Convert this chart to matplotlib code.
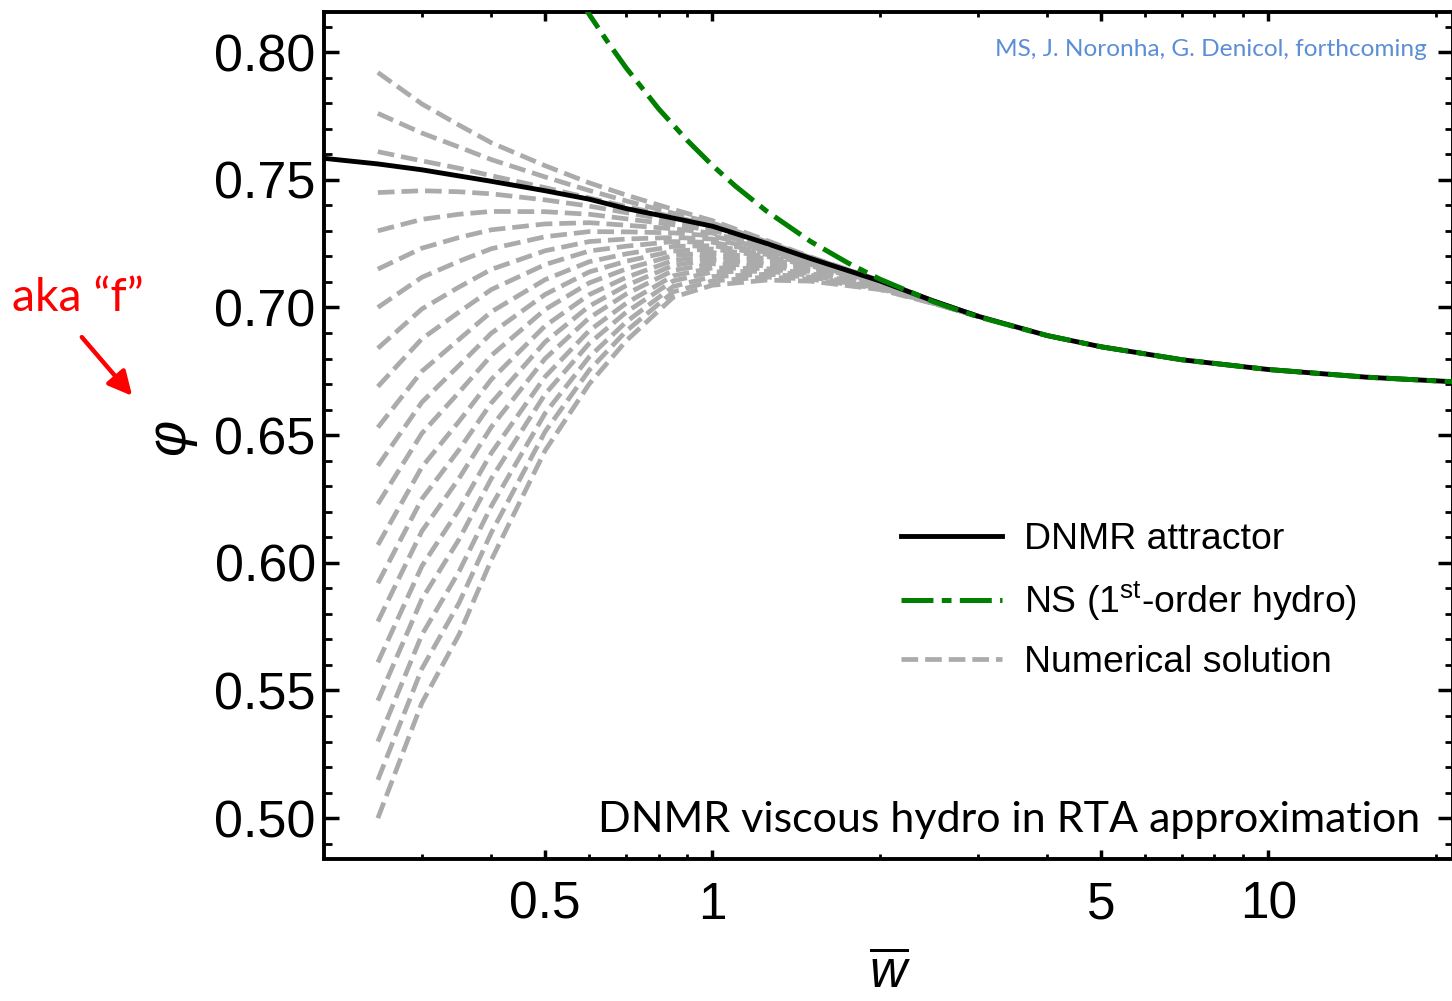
import numpy as np
import matplotlib.pyplot as plt
from matplotlib.ticker import FixedLocator, FixedFormatter, NullFormatter, MultipleLocator
from matplotlib.lines import Line2D
from matplotlib.patches import FancyArrowPatch

plt.rcParams['font.family'] = ['Liberation Sans', 'DejaVu Sans']
plt.rcParams['mathtext.fontset'] = 'custom'
plt.rcParams['mathtext.rm'] = 'Liberation Sans'
plt.rcParams['mathtext.it'] = 'Liberation Sans:italic'
plt.rcParams['lines.scale_dashes'] = False

# DNMR attractor
w_attr = [0.2, 0.25, 0.3, 0.4, 0.5, 0.6, 0.7, 0.85, 1.0, 1.25, 1.5, 2.0, 2.5, 3.0,
          4.0, 5.0, 7.0, 10.0, 15.0, 21.5]
phi_attr = [0.7584, 0.7562, 0.7539, 0.7494, 0.7457, 0.7424, 0.7387, 0.7350, 0.7318,
            0.7251, 0.7192, 0.7104, 0.7025, 0.6966, 0.6890, 0.6846, 0.6795, 0.6757,
            0.6727, 0.6709]

# Navier-Stokes (1st order)
w_ns = [0.58, 0.6, 0.65, 0.7, 0.8, 0.9, 1.0, 1.1, 1.25, 1.5, 1.75, 2.0, 2.5, 3.0,
        4.0, 5.0, 7.0, 10.0, 15.0, 21.5]
phi_ns = [0.8200, 0.8148, 0.8035, 0.7937, 0.7778, 0.7655, 0.7556, 0.7475, 0.7378,
          0.7259, 0.7175, 0.7111, 0.7022, 0.6964, 0.6890, 0.6846, 0.6795, 0.6757,
          0.6727, 0.6709]

# numerical solutions, one row per initial value at w = 0.25
w_num = [0.25, 0.3, 0.35, 0.4, 0.5, 0.6, 0.7, 0.85, 1.0, 1.25, 1.5, 2.0, 2.5, 3.0]
phi_num = [
    [0.500, 0.5451, 0.5719, 0.6011, 0.6440, 0.6700, 0.6870, 0.7040, 0.7087, 0.7107, 0.7103, 0.7070, 0.7015, 0.6966],
    [0.515, 0.5585, 0.5843, 0.6118, 0.6514, 0.6754, 0.6908, 0.7061, 0.7104, 0.7119, 0.7111, 0.7073, 0.7016, 0.6966],
    [0.530, 0.5718, 0.5966, 0.6222, 0.6586, 0.6806, 0.6944, 0.7082, 0.7121, 0.7130, 0.7119, 0.7076, 0.7016, 0.6966],
    [0.546, 0.5858, 0.6092, 0.6330, 0.6661, 0.6859, 0.6982, 0.7104, 0.7139, 0.7142, 0.7126, 0.7079, 0.7017, 0.6966],
    [0.561, 0.5987, 0.6209, 0.6430, 0.6729, 0.6909, 0.7017, 0.7124, 0.7155, 0.7152, 0.7133, 0.7082, 0.7018, 0.6966],
    [0.577, 0.6124, 0.6331, 0.6532, 0.6800, 0.6959, 0.7053, 0.7145, 0.7171, 0.7163, 0.7140, 0.7085, 0.7018, 0.6966],
    [0.592, 0.6250, 0.6443, 0.6626, 0.6865, 0.7005, 0.7086, 0.7165, 0.7186, 0.7173, 0.7146, 0.7088, 0.7019, 0.6966],
    [0.607, 0.6375, 0.6554, 0.6718, 0.6928, 0.7050, 0.7118, 0.7184, 0.7201, 0.7182, 0.7152, 0.7090, 0.7020, 0.6966],
    [0.623, 0.6507, 0.6668, 0.6812, 0.6992, 0.7096, 0.7151, 0.7203, 0.7215, 0.7191, 0.7158, 0.7092, 0.7020, 0.6966],
    [0.638, 0.6629, 0.6773, 0.6899, 0.7051, 0.7139, 0.7181, 0.7221, 0.7229, 0.7200, 0.7163, 0.7094, 0.7021, 0.6966],
    [0.653, 0.6750, 0.6875, 0.6983, 0.7109, 0.7179, 0.7210, 0.7239, 0.7242, 0.7208, 0.7168, 0.7096, 0.7021, 0.6966],
    [0.669, 0.6877, 0.6982, 0.7070, 0.7168, 0.7221, 0.7240, 0.7258, 0.7255, 0.7216, 0.7173, 0.7098, 0.7022, 0.6966],
    [0.684, 0.6994, 0.7080, 0.7149, 0.7222, 0.7258, 0.7268, 0.7274, 0.7268, 0.7223, 0.7177, 0.7100, 0.7022, 0.6966],
    [0.700, 0.7118, 0.7181, 0.7230, 0.7277, 0.7297, 0.7296, 0.7292, 0.7280, 0.7230, 0.7181, 0.7101, 0.7023, 0.6966],
    [0.715, 0.7232, 0.7274, 0.7304, 0.7327, 0.7332, 0.7322, 0.7308, 0.7291, 0.7237, 0.7185, 0.7102, 0.7023, 0.6966],
    [0.730, 0.7345, 0.7365, 0.7376, 0.7375, 0.7365, 0.7347, 0.7324, 0.7302, 0.7243, 0.7188, 0.7103, 0.7024, 0.6966],
    [0.745, 0.7457, 0.7453, 0.7445, 0.7421, 0.7397, 0.7371, 0.7339, 0.7312, 0.7248, 0.7191, 0.7104, 0.7024, 0.6966],
    [0.761, 0.7574, 0.7545, 0.7516, 0.7469, 0.7429, 0.7395, 0.7355, 0.7322, 0.7254, 0.7194, 0.7105, 0.7025, 0.6966],
    [0.776, 0.7683, 0.7628, 0.7579, 0.7511, 0.7458, 0.7417, 0.7369, 0.7331, 0.7258, 0.7196, 0.7106, 0.7025, 0.6966],
    [0.792, 0.7797, 0.7714, 0.7645, 0.7555, 0.7488, 0.7440, 0.7384, 0.7340, 0.7263, 0.7198, 0.7106, 0.7025, 0.6966],
]

xticks_major = [0.5, 1, 5, 10]
xtick_labels = ['0.5', '1', '5', '10']
xticks_minor = [0.3, 0.4, 0.6, 0.7, 0.8, 0.9, 2, 3, 4, 6, 7, 8, 9, 20]
yticks_major = [0.50, 0.55, 0.60, 0.65, 0.70, 0.75, 0.80]

labels = ['DNMR attractor', r'NS (1$^{\mathrm{st}}$-order hydro)', 'Numerical solution']

gray = '#ABABAB'
green = '#007F00'
ns_dash = (0, (23, 6, 7, 6))
num_dash = (0, (12, 5))

W, H = 1452, 1001
fig = plt.figure(figsize=(W / 100, H / 100), dpi=100)
ax = fig.add_axes([324 / W, 1 - 858.5 / H, 1129 / W, 846.5 / H])

for row in phi_num:
    ax.plot(w_num, row, color=gray, lw=3.4, linestyle=num_dash,
            dash_capstyle='butt', zorder=1)
ax.plot(w_attr, phi_attr, color='black', lw=3.5, zorder=2)
ax.plot(w_ns, phi_ns, color=green, lw=3.6, linestyle=ns_dash,
        dash_capstyle='butt', zorder=3)

ax.set_xscale('log')
ax.set_xlim(0.2, 21.5)
ax.set_ylim(0.4842, 0.8157)

ax.xaxis.set_major_locator(FixedLocator(xticks_major))
ax.xaxis.set_major_formatter(FixedFormatter(xtick_labels))
ax.xaxis.set_minor_locator(FixedLocator(xticks_minor))
ax.xaxis.set_minor_formatter(NullFormatter())
ax.yaxis.set_major_locator(FixedLocator(yticks_major))
ax.yaxis.set_major_formatter(FixedFormatter(['%.2f' % v for v in yticks_major]))
ax.yaxis.set_minor_locator(MultipleLocator(0.01))

ax.tick_params(axis='x', which='major', direction='in', length=6.5, width=2.5,
               top=True, labelsize=37, pad=16)
ax.tick_params(axis='x', which='minor', direction='in', length=3.5, width=2, top=True)
ax.tick_params(axis='y', which='major', direction='in', length=10.5, width=2.5,
               right=True, labelsize=37.5, pad=6)
ax.tick_params(axis='y', which='minor', direction='in', length=6, width=2, right=True)
for s in ax.spines.values():
    s.set_linewidth(2.8)

handles = [
    Line2D([], [], color='black', lw=3.5),
    Line2D([], [], color=green, lw=3.6, linestyle=ns_dash, dash_capstyle='butt'),
    Line2D([], [], color=gray, lw=3.4, linestyle=num_dash, dash_capstyle='butt'),
]
ax.legend(handles, labels, loc='upper left', bbox_to_anchor=(901 / W, 1 - 522 / H),
          bbox_transform=fig.transFigure, frameon=False, fontsize=26.9,
          handlelength=2.7, handletextpad=0.6, labelspacing=0.6,
          borderpad=0, borderaxespad=0)

# axis labels
fig.text(890 / W, 1 - 999 / H, r'$\overline{w}$', ha='center', va='bottom', fontsize=37)
fig.text(170 / W, 1 - 437 / H, 'φ', rotation=90, ha='center', va='center',
         fontsize=40, fontstyle='italic')

# annotations
fig.text(1427 / W, 1 - 56 / H, 'MS, J. Noronha, G. Denicol, forthcoming',
         ha='right', va='baseline', fontsize=17.6, color='#5B8ED6', family='Lato')
fig.text(1420 / W, 1 - 832 / H, 'DNMR viscous hydro in RTA approximation',
         ha='right', va='baseline', fontsize=31, family='Lato')
fig.text(12 / W, 1 - 311 / H, 'aka \u201cf\u201d', ha='left', va='baseline',
         fontsize=33.5, color='red', family='Lato')
fig.patches.append(FancyArrowPatch(
    (80 / W, 1 - 335 / H), (134 / W, 1 - 398 / H), transform=fig.transFigure,
    arrowstyle='-|>', mutation_scale=36, color='red', lw=3.2))

fig.savefig('out.png', dpi=100)
